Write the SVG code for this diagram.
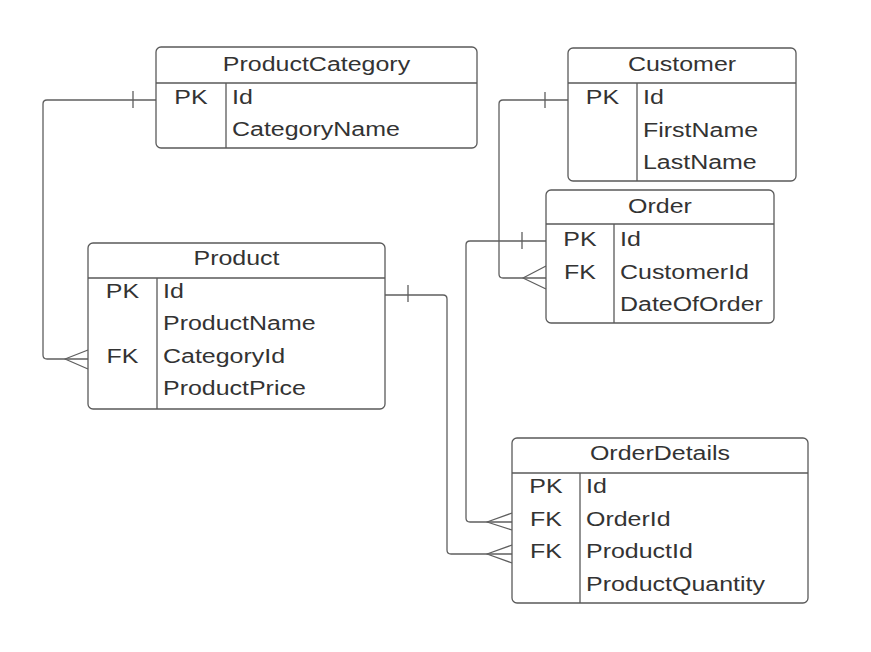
<svg xmlns="http://www.w3.org/2000/svg" width="871" height="652" viewBox="0 0 871 652">
<style>
.box{fill:#fff;stroke:#5a5a5a;stroke-width:1.3}
.sep{stroke:#5a5a5a;stroke-width:1.3;fill:none}
.t{font-family:"Liberation Sans",Arial,sans-serif;font-size:20.8px;fill:#333}
.m{text-anchor:middle}
.c{fill:none;stroke:#5f5f5f;stroke-width:1.3;stroke-linejoin:round}
</style>
<rect width="871" height="652" fill="#fff"/>
<g id="connectors">
  <path class="c" d="M156,100 H47 Q43,100 43,104 V355 Q43,359 47,359 H88"/>
  <path class="c" d="M133,91 V108"/>
  <path class="c" d="M88,350 L65,359 L88,369"/>
  <path class="c" d="M568,100 H503 Q499,100 499,104 V274 Q499,278 503,278 H546"/>
  <path class="c" d="M545,92 V108"/>
  <path class="c" d="M546,266 L523,278 L546,289"/>
  <path class="c" d="M546,241 H470 Q466,241 466,245 V518 Q466,522 470,522 H512"/>
  <path class="c" d="M522,232 V249"/>
  <path class="c" d="M512,513 L487,522 L512,530"/>
  <path class="c" d="M385,295 H443 Q447,295 447,299 V550 Q447,554 451,554 H512"/>
  <path class="c" d="M408,285 V302"/>
  <path class="c" d="M512,545 L487,554 L512,563"/>
</g>
<g id="ProductCategory">
  <rect class="box" x="156" y="47" width="321" height="101" rx="5"/>
  <path class="sep" d="M156,83 H477 M226,83 V148"/>
  <g transform="scale(1.2 1)">
    <text class="t m" x="263.75" y="71">ProductCategory</text>
    <text class="t m" x="159.17" y="104">PK</text>
    <text class="t" x="193.33" y="104">Id</text>
    <text class="t" x="193.33" y="136.5">CategoryName</text>
  </g>
</g>
<g id="Customer">
  <rect class="box" x="568" y="48" width="228" height="133" rx="5"/>
  <path class="sep" d="M568,83 H796 M637,83 V181"/>
  <g transform="scale(1.2 1)">
    <text class="t m" x="568.33" y="71">Customer</text>
    <text class="t m" x="502.08" y="104.5">PK</text>
    <text class="t" x="535.83" y="104.5">Id</text>
    <text class="t" x="535.83" y="137">FirstName</text>
    <text class="t" x="535.83" y="169.5">LastName</text>
  </g>
</g>
<g id="Order">
  <rect class="box" x="546" y="190" width="228" height="133" rx="5"/>
  <path class="sep" d="M546,224 H774 M614,224 V323"/>
  <g transform="scale(1.2 1)">
    <text class="t m" x="550" y="213">Order</text>
    <text class="t m" x="483.33" y="246.5">PK</text>
    <text class="t" x="516.67" y="246.5">Id</text>
    <text class="t m" x="483.33" y="279">FK</text>
    <text class="t" x="516.67" y="279">CustomerId</text>
    <text class="t" x="516.67" y="311">DateOfOrder</text>
  </g>
</g>
<g id="Product">
  <rect class="box" x="88" y="243" width="297" height="166" rx="5"/>
  <path class="sep" d="M88,278 H385 M157,278 V409"/>
  <g transform="scale(1.2 1)">
    <text class="t m" x="197.08" y="265.5">Product</text>
    <text class="t m" x="102.08" y="298">PK</text>
    <text class="t" x="135.83" y="298">Id</text>
    <text class="t" x="135.83" y="330.5">ProductName</text>
    <text class="t m" x="102.08" y="363">FK</text>
    <text class="t" x="135.83" y="363">CategoryId</text>
    <text class="t" x="135.83" y="395.5">ProductPrice</text>
  </g>
</g>
<g id="OrderDetails">
  <rect class="box" x="512" y="438" width="296" height="165" rx="5"/>
  <path class="sep" d="M512,473 H808 M580,473 V603"/>
  <g transform="scale(1.2 1)">
    <text class="t m" x="550" y="460">OrderDetails</text>
    <text class="t m" x="455" y="493.5">PK</text>
    <text class="t" x="488.33" y="493.5">Id</text>
    <text class="t m" x="455" y="526">FK</text>
    <text class="t" x="488.33" y="526">OrderId</text>
    <text class="t m" x="455" y="558.5">FK</text>
    <text class="t" x="488.33" y="558.5">ProductId</text>
    <text class="t" x="488.33" y="591">ProductQuantity</text>
  </g>
</g>
</svg>
